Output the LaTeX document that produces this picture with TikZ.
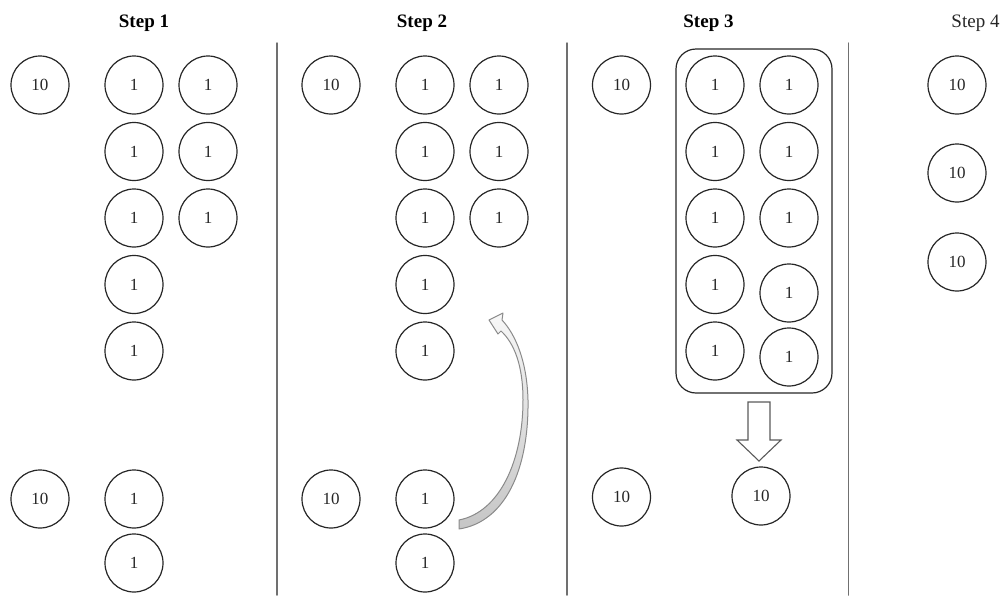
\documentclass[tikz,border=0pt]{standalone}
\usepackage{fontspec}
\setmainfont{Liberation Serif}
\usetikzlibrary{calc}
\definecolor{ccInk}{HTML}{262626}
\definecolor{ccRule}{HTML}{707070}
\definecolor{ccArrow}{HTML}{5A5A5A}
\definecolor{ccCurve}{HTML}{8A8A8A}
\tikzset{
 coins/.style={font=\fontsize{8.5}{10}\selectfont,line cap=round,line join=round,text=ccInk},
 coin/.style={circle,draw=ccInk,fill=white,line width=.6pt,inner sep=0pt,minimum size=29pt},
 steptitle/.style={font=\fontsize{9.5}{11}\selectfont\bfseries,text=black},
 steptitleplain/.style={font=\fontsize{9.5}{11}\selectfont,text=ccInk},
 panelrule/.style={draw=ccRule,line width=.75pt},
 tray/.style={rectangle,draw=ccInk,line width=.6pt,rounded corners=10pt,minimum width=78pt,minimum height=172pt,inner sep=0pt},
 blockarrow/.style={draw=ccArrow,fill=white,line width=.55pt,line join=miter},
 swoosh/.style={draw=ccCurve,line width=.5pt,top color=gray!6,bottom color=gray!45}
}

\begin{document}
\begin{tikzpicture}[coins,x=.5pt,y=-.5pt]
 \useasboundingbox (0,0) rectangle (1002,595);
 % panel rules
 \draw[panelrule] (277,43)--(277,595);
 \draw[panelrule] (567,43)--(567,595);
 \draw[panelrule] (848.5,43)--(848.5,595);
 % titles
 \node[steptitle] (t1) at (144,23) {Step 1};
 \node[steptitle] (t2) at (422,23) {Step 2};
 \node[steptitle] (t3) at (708.5,23) {Step 3};
 \node[steptitleplain] (t4) at (975.5,23) {Step 4};
 % step 1
 \node[coin] (s1ten) at (40,85) {10};
 \foreach \r in {0,...,4} \node[coin] (s1a\r) at (134,{85+66.5*\r}) {1};
 \foreach \r in {0,1,2} \node[coin] (s1b\r) at (208,{85+66.5*\r}) {1};
 \node[coin] (s1lowten) at (40,499) {10};
 \node[coin] (s1low0) at (134,499) {1};
 \node[coin] (s1low1) at (134,563) {1};
 % step 2
 \begin{scope}[shift={(291,0)}]
 \node[coin] (s2ten) at (40,85) {10};
 \foreach \r in {0,...,4} \node[coin] (s2a\r) at (134,{85+66.5*\r}) {1};
 \foreach \r in {0,1,2} \node[coin] (s2b\r) at (208,{85+66.5*\r}) {1};
 \node[coin] (s2lowten) at (40,499) {10};
 \node[coin] (s2low0) at (134,499) {1};
 \node[coin] (s2low1) at (134,563) {1};
 \end{scope}
 \draw[swoosh] (459,529) .. controls (505,522) and (529,470) .. (528,400)
   .. controls (527,362) and (516,335) .. (502,320) -- (503,313) -- (489,320)
   -- (498,334) -- (501,331) .. controls (514,343) and (523,365) .. (523,400)
   .. controls (523,460) and (500,512) .. (459,520) -- cycle;
 % step 3
 \node[tray] (s3tray) at (754,221) {};
 \node[coin] (s3ten) at (621.5,85) {10};
 \foreach \r in {0,...,4} \node[coin] (s3a\r) at (715,{85+66.5*\r}) {1};
 \foreach \r in {0,1,2} \node[coin] (s3b\r) at (789,{85+66.5*\r}) {1};
 \node[coin] (s3b3) at (789,293) {1};
 \node[coin] (s3b4) at (789,357) {1};
 \draw[blockarrow] (748,402) -- (770,402) -- (770,440) -- (781,440) -- (759,461)
   -- (737,440) -- (748,440) -- cycle;
 \node[coin] (s3lowten) at (621.5,497) {10};
 \node[coin] (s3sum) at (761,496) {10};
 % step 4
 \node[coin] (s4ten0) at (957,85) {10};
 \node[coin] (s4ten1) at (957,173) {10};
 \node[coin] (s4ten2) at (957,262) {10};
\end{tikzpicture}
\end{document}
